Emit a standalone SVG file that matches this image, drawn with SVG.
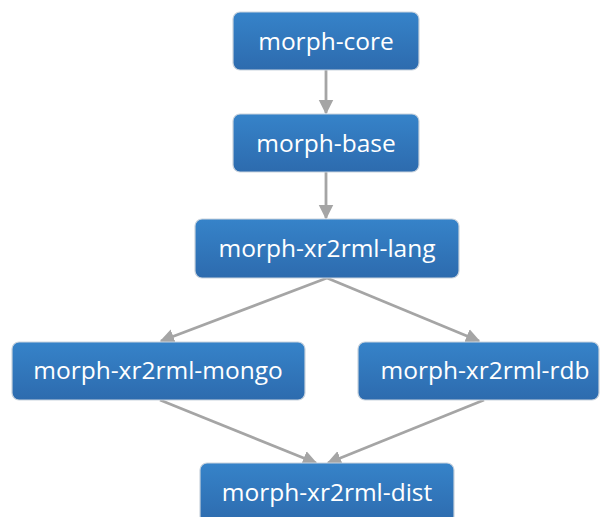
<svg xmlns="http://www.w3.org/2000/svg" width="601" height="517" viewBox="0 0 601 517">
<defs>
<linearGradient id="g" x1="0" y1="0" x2="0" y2="1">
<stop offset="0" stop-color="#3683C9"/>
<stop offset="1" stop-color="#2D6BAE"/>
</linearGradient>
<marker id="ah" viewBox="0 0 10 10" refX="9" refY="5" markerWidth="5.2" markerHeight="5.6" orient="auto" markerUnits="strokeWidth">
<path d="M0,0 L10,5 L0,10 z" fill="#A5A5A5"/>
</marker>
<style>
.box{fill:url(#g);stroke:#C9D3DD;stroke-width:1.2}
.lbl{fill:#FFFFFF;font-family:"Open Sans","DejaVu Sans",sans-serif;font-size:24.5px;text-anchor:middle}
.edge{stroke:#A5A5A5;stroke-width:2.8;fill:none;marker-end:url(#ah)}
</style>
</defs>
<rect width="601" height="517" fill="#FFFFFF"/>
<g id="connectors">
<line class="edge" x1="326" y1="70" x2="326" y2="113"/>
<line class="edge" x1="326" y1="172" x2="326" y2="218"/>
<line class="edge" x1="327" y1="278" x2="161" y2="341"/>
<line class="edge" x1="327" y1="278" x2="479" y2="341"/>
<line class="edge" x1="160" y1="400" x2="316" y2="463"/>
<line class="edge" x1="484" y1="400" x2="328" y2="463"/>
</g>
<g id="morph-core">
<rect class="box" x="233" y="12" width="186" height="58" rx="7"/>
<text class="lbl" x="326" y="50">morph-core</text>
</g>
<g id="morph-base">
<rect class="box" x="233" y="114" width="186" height="58" rx="7"/>
<text class="lbl" x="326" y="152">morph-base</text>
</g>
<g id="morph-xr2rml-lang">
<rect class="box" x="195" y="219" width="264" height="59" rx="7"/>
<text class="lbl" x="327" y="257">morph-xr2rml-lang</text>
</g>
<g id="morph-xr2rml-mongo">
<rect class="box" x="12" y="342" width="293" height="58" rx="7"/>
<text class="lbl" x="158" y="379">morph-xr2rml-mongo</text>
</g>
<g id="morph-xr2rml-rdb">
<rect class="box" x="358" y="342" width="241" height="58" rx="7"/>
<text class="lbl" x="485" y="379">morph-xr2rml-rdb</text>
</g>
<g id="morph-xr2rml-dist">
<rect class="box" x="200" y="463" width="254" height="60" rx="7"/>
<text class="lbl" x="327" y="501">morph-xr2rml-dist</text>
</g>
</svg>
